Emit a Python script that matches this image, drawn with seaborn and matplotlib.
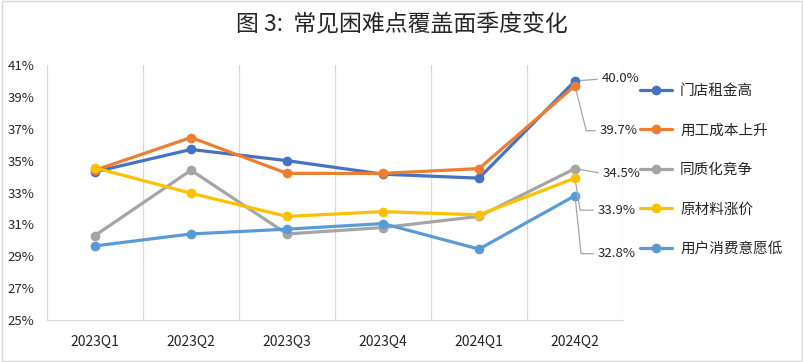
import pandas as pd
import matplotlib.pyplot as plt
import seaborn as sns
from matplotlib.patches import Rectangle

quarters = ["2023Q1", "2023Q2", "2023Q3", "2023Q4", "2024Q1", "2024Q2"]
rent = [34.3, 35.7, 35.0, 34.15, 33.9, 40.0]
labor = [34.4, 36.45, 34.2, 34.2, 34.5, 39.7]
homog = [30.3, 34.4, 30.4, 30.8, 31.5, 34.5]
material = [34.55, 32.95, 31.5, 31.8, 31.6, 33.9]
demand = [29.65, 30.4, 30.7, 31.05, 29.45, 32.8]

series_names = ["门店租金高", "用工成本上升", "同质化竞争", "原材料涨价", "用户消费意愿低"]
colors = ["#4472C4", "#ED7D31", "#A5A5A5", "#FFC000", "#5B9BD5"]

# end-point label offsets (pixels) so the labels don't collide
label_offsets = [(27, 2), (25, -45), (28, -5), (23, -32), (23, -58)]
label_bends = [None, -76, None, -81, -84]

sns.set_style("white")
plt.rcParams["font.family"] = ["Noto Sans CJK SC", "DejaVu Sans"]

values = [rent, labor, homog, material, demand]
df = pd.DataFrame({
    "quarter": quarters * len(series_names),
    "value": [v for vals in values for v in vals],
    "series": [s for s in series_names for _ in quarters],
})

fig = plt.figure(figsize=(8.04, 3.62), dpi=100)
ax = fig.add_axes([47 / 804, 1 - 320 / 362, 576 / 804, 255 / 362])

for name, color in zip(series_names, colors):
    sns.lineplot(data=df[df["series"] == name], x="quarter", y="value",
                 color=color, marker="o", markersize=7, markeredgewidth=0,
                 linewidth=2.3, label=name, ax=ax, legend=False)

ax.set_xlim(-0.5, len(quarters) - 0.5)
ax.set_ylim(25, 41)
ax.set_yticks(range(25, 42, 2))
ax.set_yticklabels([f"{t}%" for t in range(25, 42, 2)])
ax.set_xticks(range(len(quarters)))
ax.set_xticklabels(quarters)
ax.set_xticks([i - 0.5 for i in range(len(quarters) + 1)], minor=True)
ax.grid(axis="x", which="minor", color="#d9d9d9", linewidth=0.9)
ax.grid(axis="y", visible=False)
ax.set_xlabel("")
ax.set_ylabel("")
ax.tick_params(axis="both", which="both", length=0, labelsize=9.5,
               colors="#262626")
ax.tick_params(axis="x", labelsize=10, pad=11)
ax.tick_params(axis="y", pad=9)
for side in ["top", "right", "left"]:
    ax.spines[side].set_visible(False)
ax.spines["bottom"].set_color("#d9d9d9")

# labels on the last quarter
for vals, off, bend in zip(values, label_offsets, label_bends):
    if bend is None:
        conn = "arc3,rad=0"
    else:
        conn = f"angle,angleA=0,angleB={bend},rad=0"
    ax.annotate(f"{vals[-1]:.1f}%", xy=(len(quarters) - 1, vals[-1]),
                xytext=off, textcoords="offset pixels", ha="left", va="center",
                fontsize=9.5, color="#262626",
                arrowprops=dict(arrowstyle="-", color="#a6a6a6", lw=0.9,
                                connectionstyle=conn, relpos=(0, 0.5),
                                shrinkA=1, shrinkB=4))

handles, labels = ax.get_legend_handles_labels()
fig.legend(handles, labels, loc="upper left",
           bbox_to_anchor=(640 / 804, 1 - 84 / 362), frameon=False,
           fontsize=10.5, handlelength=2.2, handletextpad=0.55,
           labelspacing=1.75, borderpad=0, borderaxespad=0)

fig.suptitle("图 3:  常见困难点覆盖面季度变化", y=1 - 25 / 362, va="center",
             fontsize=16.5, color="#262626")

fig.patches.append(Rectangle((0.002, 0.003), 0.996, 0.994,
                             transform=fig.transFigure, fill=False,
                             edgecolor="#d9d9d9", linewidth=1))

fig.savefig("out.png", dpi=100)
